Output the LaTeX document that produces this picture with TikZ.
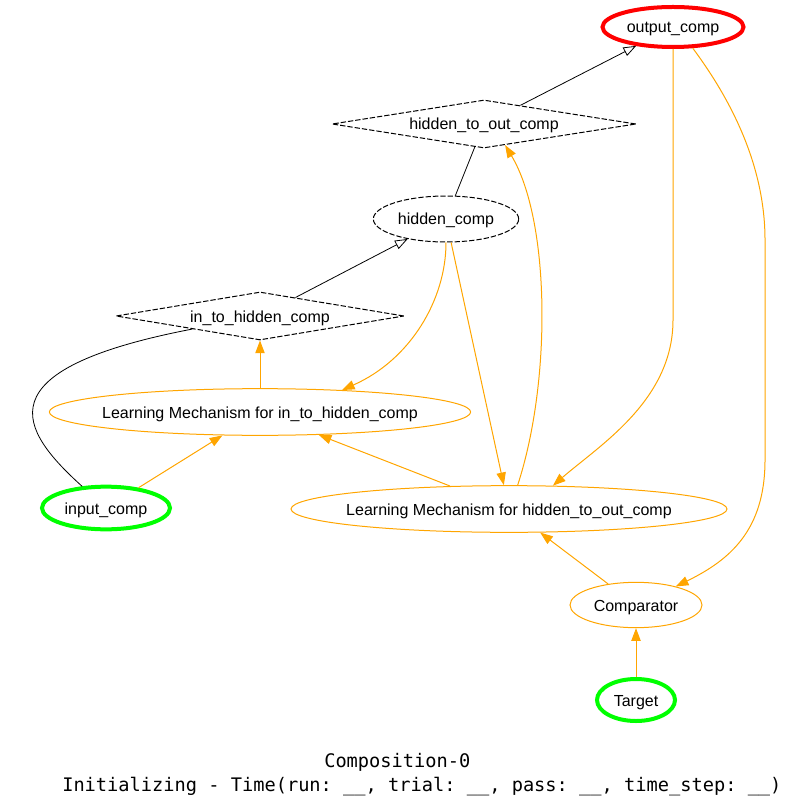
\documentclass[tikz,border=0pt]{standalone}
\usepackage{fontspec}
\setmainfont{Liberation Sans}
\newfontfamily\titlefont{DejaVu Sans Mono}
\usetikzlibrary{shapes.geometric,arrows.meta}
\definecolor{gvorange}{HTML}{FFA500}
\definecolor{gvred}{HTML}{FF0000}
\definecolor{gvgreen}{HTML}{00FF00}
\begin{document}
\begin{tikzpicture}[x=0.75pt, y=-0.75pt, every node/.style={font=\fontsize{12}{14}\selectfont, inner sep=0pt},
    oval/.style 2 args={ellipse, inner xsep=-30pt, text height=9pt, text depth=0pt, minimum width=#1, minimum height=#2},
    rhomb/.style 2 args={diamond, aspect=6, text height=9pt, text depth=0pt, minimum width=#1, minimum height=#2, draw=black, line width=0.75pt, dash pattern=on 4pt off 1.5pt},
    learn/.style={gvorange, line width=0.75pt, -{Triangle[length=9.5pt,width=7pt]}},
    proj/.style={black, line width=0.6pt}]
    \useasboundingbox (0,0) rectangle (794,812);

    % Узлы
    \node[oval={105.75pt}{30pt}, draw=gvred, line width=3pt] (output_comp) at (673,27) {output\_comp};
    \node[rhomb={228pt}{36pt}] (hidden_to_out) at (484,124) {hidden\_to\_out\_comp};
    \node[oval={109pt}{34.5pt}, draw=black, line width=0.75pt, dash pattern=on 4pt off 1.5pt] (hidden_comp) at (446,219) {hidden\_comp};
    \node[rhomb={216pt}{36pt}] (in_to_hidden) at (260,316) {in\_to\_hidden\_comp};
    \node[oval={316pt}{35pt}, draw=gvorange, line width=0.75pt] (lm_ith) at (260,412) {Learning Mechanism for in\_to\_hidden\_comp};
    \node[oval={96pt}{32pt}, draw=gvgreen, line width=3pt] (input_comp) at (106,508) {input\_comp};
    \node[oval={327pt}{35pt}, draw=gvorange, line width=0.75pt] (lm_hto) at (509,509) {Learning Mechanism for hidden\_to\_out\_comp};
    \node[oval={99pt}{34pt}, draw=gvorange, line width=0.75pt] (comparator) at (636,605) {Comparator};
    \node[oval={58.5pt}{31.5pt}, draw=gvgreen, line width=3pt] (target) at (636,700) {Target};

    % Проекции
    \draw[proj] (hidden_comp) -- (hidden_to_out);
    \draw[proj, -{Triangle[open,length=9.5pt,width=7pt]}] (hidden_to_out) -- (output_comp);
    \draw[proj] (input_comp) .. controls (20,430) and (-20,370) .. (in_to_hidden);
    \draw[proj, -{Triangle[open,length=9.5pt,width=7pt]}] (in_to_hidden) -- (hidden_comp);

    % Обучение
    \draw[learn] (target) -- (comparator);
    \draw[learn] (comparator) -- (lm_hto);
    \draw[learn] (lm_hto) -- (lm_ith);
    \draw[learn] (input_comp) -- (lm_ith);
    \draw[learn] (lm_ith) -- (in_to_hidden);
    \draw[learn] (hidden_comp) -- (lm_hto);
    \draw[learn] (hidden_comp.south) .. controls (446,300) and (410,360) .. (lm_ith.15);
    \draw[learn] (lm_hto.70) .. controls (552,380) and (550,220) .. (hidden_to_out.-45);
    \draw[learn] (output_comp.south) -- (673,320) .. controls (673,400) and (600,445) .. (lm_hto.28);
    \draw[learn] (output_comp.-47) .. controls (735,105) and (765,170) .. (765,240) -- (765,460)
        .. controls (765,530) and (730,560) .. (comparator.25);

    % Подпись
    \node[font=\titlefont\fontsize{14}{16}\selectfont, anchor=base west] (title) at (324,767) {Composition-0};
    \node[font=\titlefont\fontsize{14}{16}\selectfont, anchor=base west] (status) at (62,791) {\frenchspacing Initializing - Time(run: \_\_, trial: \_\_, pass: \_\_, time\_step: \_\_)};
\end{tikzpicture}
\end{document}
